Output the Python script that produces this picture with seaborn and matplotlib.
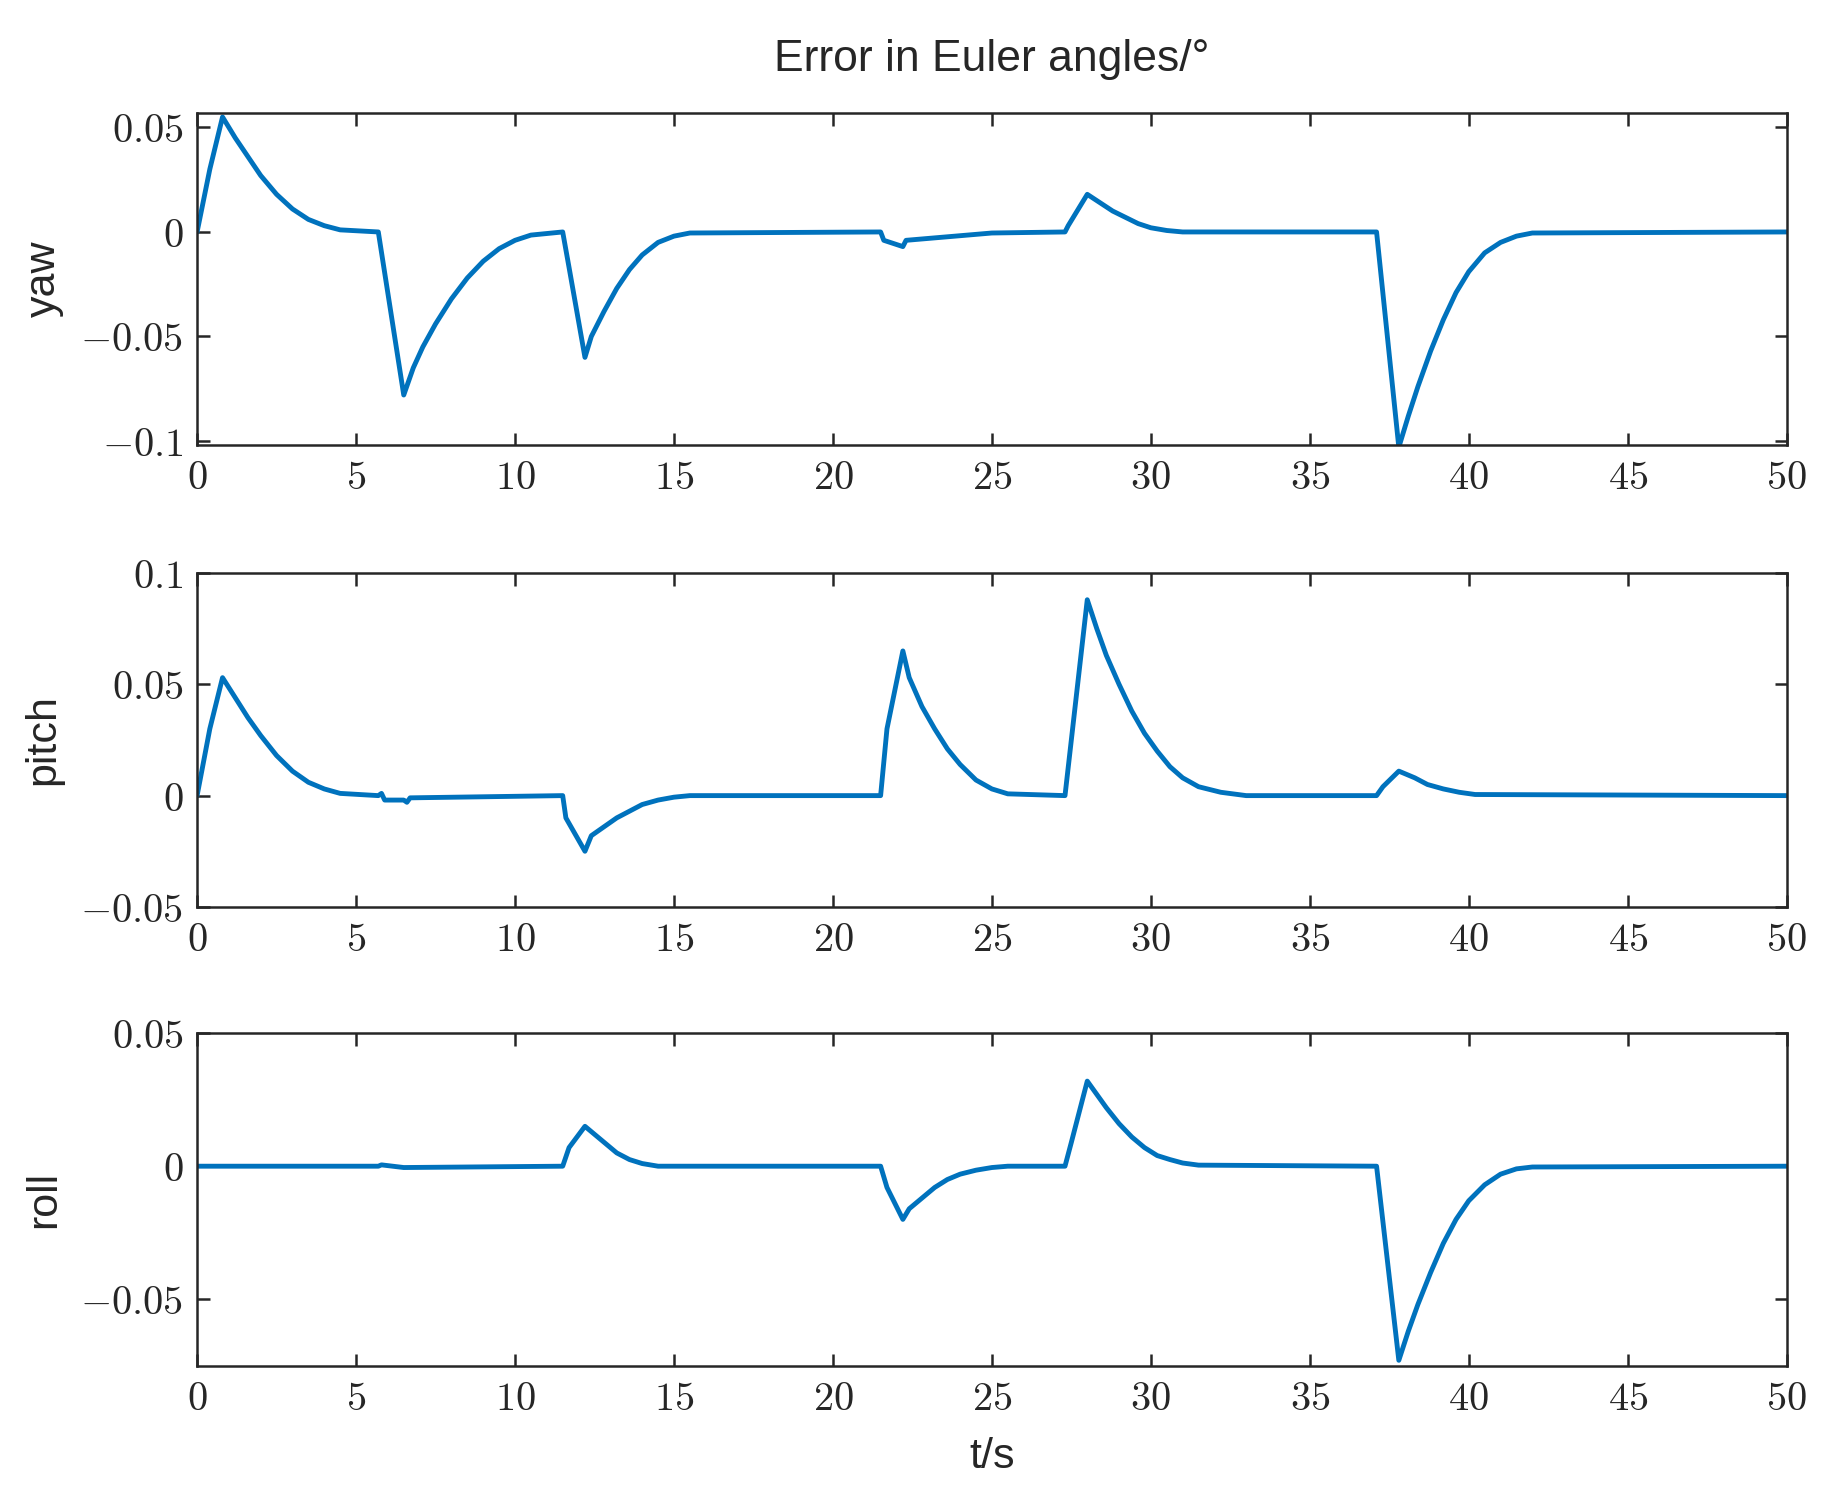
import matplotlib
matplotlib.use('Agg')
import matplotlib.pyplot as plt
import seaborn as sns
import pandas as pd
from matplotlib.ticker import FuncFormatter

sns.set_style('ticks')
plt.rcParams['font.family'] = ['Liberation Sans', 'DejaVu Sans']
plt.rcParams['mathtext.fontset'] = 'cm'

yaw_t = [0, 0.4, 0.8, 1.2, 1.6, 2.0, 2.5, 3.0, 3.5, 4.0, 4.5, 5.7, 6.5, 6.8, 7.1, 7.5, 8.0, 8.5, 9.0, 9.5, 10.0, 10.5,
         11.5, 11.7, 12.2, 12.4, 12.8, 13.2, 13.6, 14.0, 14.5, 15.0, 15.5,
         21.5, 21.6, 22.2, 22.3, 25, 27.3, 27.4, 28, 28.4, 28.8, 29.2, 29.6, 30.0, 30.5, 31,
         37.1, 37.8, 38.1, 38.4, 38.8, 39.2, 39.6, 40.0, 40.5, 41.0, 41.5, 42, 50]
yaw_v = [0, 0.03, 0.055, 0.045, 0.036, 0.027, 0.018, 0.011, 0.006, 0.003, 0.001, 0, -0.078, -0.065, -0.055, -0.044,
         -0.032, -0.022, -0.014, -0.008, -0.004, -0.0015, 0, -0.017, -0.06, -0.05, -0.038, -0.027, -0.018, -0.011,
         -0.005, -0.002, -0.0005, 0, -0.004, -0.007, -0.004, -0.0005, 0, 0.003, 0.018, 0.014, 0.01, 0.007, 0.004,
         0.002, 0.0007, 0, 0, -0.103, -0.088, -0.074, -0.057, -0.042, -0.029, -0.019, -0.01, -0.005, -0.002,
         -0.0005, 0]

pitch_t = [0, 0.4, 0.8, 1.2, 1.6, 2.0, 2.5, 3.0, 3.5, 4.0, 4.5, 5.7, 5.8, 5.9, 6.5, 6.6, 6.7, 11.5, 11.6, 12.2, 12.4,
           12.8, 13.2, 13.6, 14.0, 14.5, 15.0, 15.5, 21.5, 21.7, 22.2, 22.4, 22.8, 23.2, 23.6, 24.0, 24.5, 25.0, 25.5,
           27.3, 28, 28.3, 28.6, 29.0, 29.4, 29.8, 30.2, 30.6, 31.0, 31.5, 32.2, 33, 37.1, 37.3, 37.8, 38.3, 38.7,
           39.2, 39.7, 40.2, 50]
pitch_v = [0, 0.03, 0.053, 0.044, 0.035, 0.027, 0.018, 0.011, 0.006, 0.003, 0.001, 0, 0.001, -0.002, -0.002, -0.003,
           -0.001, 0, -0.01, -0.025, -0.018, -0.014, -0.01, -0.007, -0.004, -0.002, -0.0007, 0, 0, 0.03, 0.065,
           0.053, 0.04, 0.03, 0.021, 0.014, 0.007, 0.003, 0.0008, 0, 0.088, 0.075, 0.063, 0.05, 0.038, 0.028, 0.02,
           0.013, 0.008, 0.004, 0.0015, 0, 0, 0.004, 0.011, 0.008, 0.005, 0.003, 0.0015, 0.0005, 0]

roll_t = [0, 5.7, 5.8, 6.5, 11.5, 11.7, 12.2, 12.5, 12.8, 13.2, 13.6, 14.0, 14.5, 21.5, 21.7, 22.2, 22.4, 22.8, 23.2,
          23.6, 24.0, 24.5, 25.0, 25.5, 27.3, 27.5, 28, 28.3, 28.6, 29.0, 29.4, 29.8, 30.2, 30.6, 31.0, 31.5,
          37.1, 37.8, 38.1, 38.4, 38.8, 39.2, 39.6, 40.0, 40.5, 41.0, 41.5, 42, 50]
roll_v = [0, 0, 0.0005, -0.0005, 0, 0.007, 0.015, 0.012, 0.009, 0.005, 0.0025, 0.001, 0, 0, -0.008, -0.02, -0.016,
          -0.012, -0.008, -0.005, -0.003, -0.0015, -0.0005, 0, 0, 0.009, 0.032, 0.027, 0.022, 0.016, 0.011, 0.007,
          0.004, 0.0025, 0.0012, 0.0004, 0, -0.073, -0.062, -0.052, -0.04, -0.029, -0.02, -0.013, -0.007, -0.003,
          -0.001, -0.0003, 0]

panels = [
    ('yaw', yaw_t, yaw_v, (-0.102, 0.057), [-0.1, -0.05, 0, 0.05]),
    ('pitch', pitch_t, pitch_v, (-0.05, 0.1), [-0.05, 0, 0.05, 0.1]),
    ('roll', roll_t, roll_v, (-0.075, 0.05), [-0.05, 0, 0.05]),
]
boxes = [(0.925, 0.704), (0.619, 0.397), (0.313, 0.092)]

fig = plt.figure(figsize=(18.25, 15.04), dpi=100)
fmt = FuncFormatter(lambda v, p: '$0$' if abs(v) < 1e-12 else f'${v:g}$')

for (name, t, v, ylim, yt), (top, bot) in zip(panels, boxes):
    ax = fig.add_axes([0.108, bot, 0.871, top - bot])
    df = pd.DataFrame({'t': t, 'v': v})
    sns.lineplot(data=df, x='t', y='v', ax=ax, color='#0072BD', linewidth=3.5)
    ax.set_xlim(0, 50)
    ax.set_ylim(*ylim)
    ax.set_xticks(range(0, 51, 5))
    ax.set_yticks(yt)
    ax.xaxis.set_major_formatter(fmt)
    ax.yaxis.set_major_formatter(fmt)
    ax.tick_params(direction='in', length=9, width=1.8, labelsize=29, top=True, right=True, pad=10)
    for s in ax.spines.values():
        s.set_linewidth(1.8)
        s.set_color('#262626')
    ax.set_ylabel(name, fontsize=31, labelpad=12)
    ax.set_xlabel('t/s' if name == 'roll' else '', fontsize=31, labelpad=14)
    if name == 'yaw':
        ax.set_title('Error in Euler angles/°', fontsize=32, pad=30)

fig.savefig('out.png', dpi=100)
